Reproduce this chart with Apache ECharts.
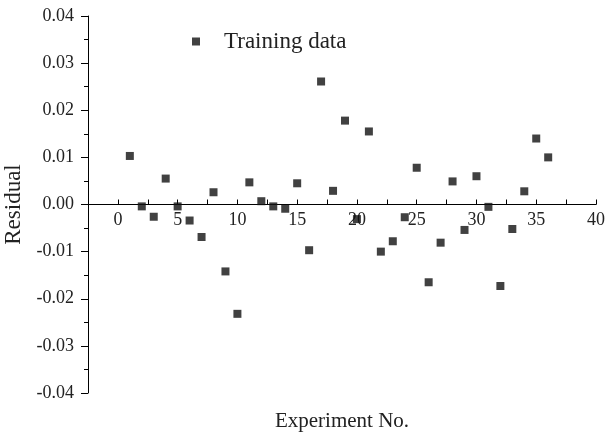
<!DOCTYPE html>
<html>
<head>
<meta charset="utf-8">
<script src="https://cdn.jsdelivr.net/npm/echarts@6/dist/echarts.min.js"></script>
<style>
  html, body { margin: 0; padding: 0; background: #fff; }
  #chart { width: 605px; height: 435px; }
</style>
</head>
<body>
<div id="chart"></div>
<script>
// experiment numbers and residuals
let experiment_no = [1, 2, 3, 4, 5, 6, 7, 8, 9, 10, 11, 12, 13, 14, 15, 16, 17, 18,
    19, 20, 21, 22, 23, 24, 25, 26, 27, 28, 29, 30, 31, 32, 33, 34, 35, 36]
let residual = [0.0103, -0.0004, -0.0026, 0.0055, -0.0004, -0.0034, -0.0069, 0.0026, -0.0142, -0.0232,
    0.0047, 0.0007, -0.0004, -0.0009, 0.0045, -0.0097, 0.0261, 0.0029, 0.0178, -0.0031,
    0.0155, -0.0100, -0.0078, -0.0027, 0.0078, -0.0165, -0.0081, 0.0049, -0.0054, 0.0060,
    -0.0005, -0.0173, -0.0052, 0.0028, 0.0140, 0.0100]
let x_labels = [0, 5, 10, 15, 20, 25, 30, 35, 40]
let series_name = 'Training data'

let chart = echarts.init(document.getElementById('chart'))
let font = '"Liberation Serif", "Times New Roman", serif'

let points = experiment_no.map(function (n, i) {
    return [n, residual[i]]
})

// grid is 377px tall, the x axis sits on residual = 0 (the middle)
option = {
    animation: false,
    backgroundColor: '#fff',
    textStyle: { fontFamily: font, color: '#222' },
    grid: { left: 88, right: 9, top: 16, bottom: 42, containLabel: false, outerBoundsMode: 'none' },
    legend: {
        left: 187,
        top: 25,
        data: [series_name],
        icon: 'path://M0,0L1,0L1,1L0,1Z',
        itemWidth: 46,
        itemHeight: 8,
        textStyle: { fontFamily: font, fontSize: 23, color: '#222' }
    },
    xAxis: {
        type: 'value',
        min: -2.5,
        max: 40,
        interval: 2.5,
        position: 'bottom',
        offset: -188.5,
        name: 'Experiment No.',
        nameLocation: 'middle',
        nameGap: 206,
        nameTextStyle: { fontFamily: font, fontSize: 21, color: '#222' },
        axisLine: { onZero: false, lineStyle: { color: '#000', width: 1 } },
        axisTick: { inside: true, length: 5, lineStyle: { color: '#000' } },
        axisLabel: {
            margin: 7,
            fontFamily: font,
            fontSize: 18,
            color: '#222',
            formatter: function (v) {
                return x_labels.indexOf(v) >= 0 ? String(v) : ''
            }
        },
        splitLine: { show: false }
    },
    yAxis: {
        type: 'value',
        min: -0.04,
        max: 0.04,
        interval: 0.01,
        name: 'Residual',
        nameLocation: 'middle',
        nameGap: 62,
        nameTextStyle: { fontFamily: font, fontSize: 23, color: '#222' },
        axisLine: { show: true, onZero: false, lineStyle: { color: '#000', width: 1 } },
        axisTick: { show: true, length: 7, lineStyle: { color: '#000' } },
        minorTick: { show: true, splitNumber: 2, length: 4, lineStyle: { color: '#000' } },
        axisLabel: {
            margin: 14,
            fontFamily: font,
            fontSize: 18,
            color: '#222',
            formatter: function (v) {
                return v.toFixed(2)
            }
        },
        splitLine: { show: false }
    },
    series: [
        {
            name: series_name,
            type: 'scatter',
            symbol: 'rect',
            symbolSize: 8,
            itemStyle: { color: '#111' },
            data: points
        }
    ]
}
chart.setOption(option)
</script>
</body>
</html>
